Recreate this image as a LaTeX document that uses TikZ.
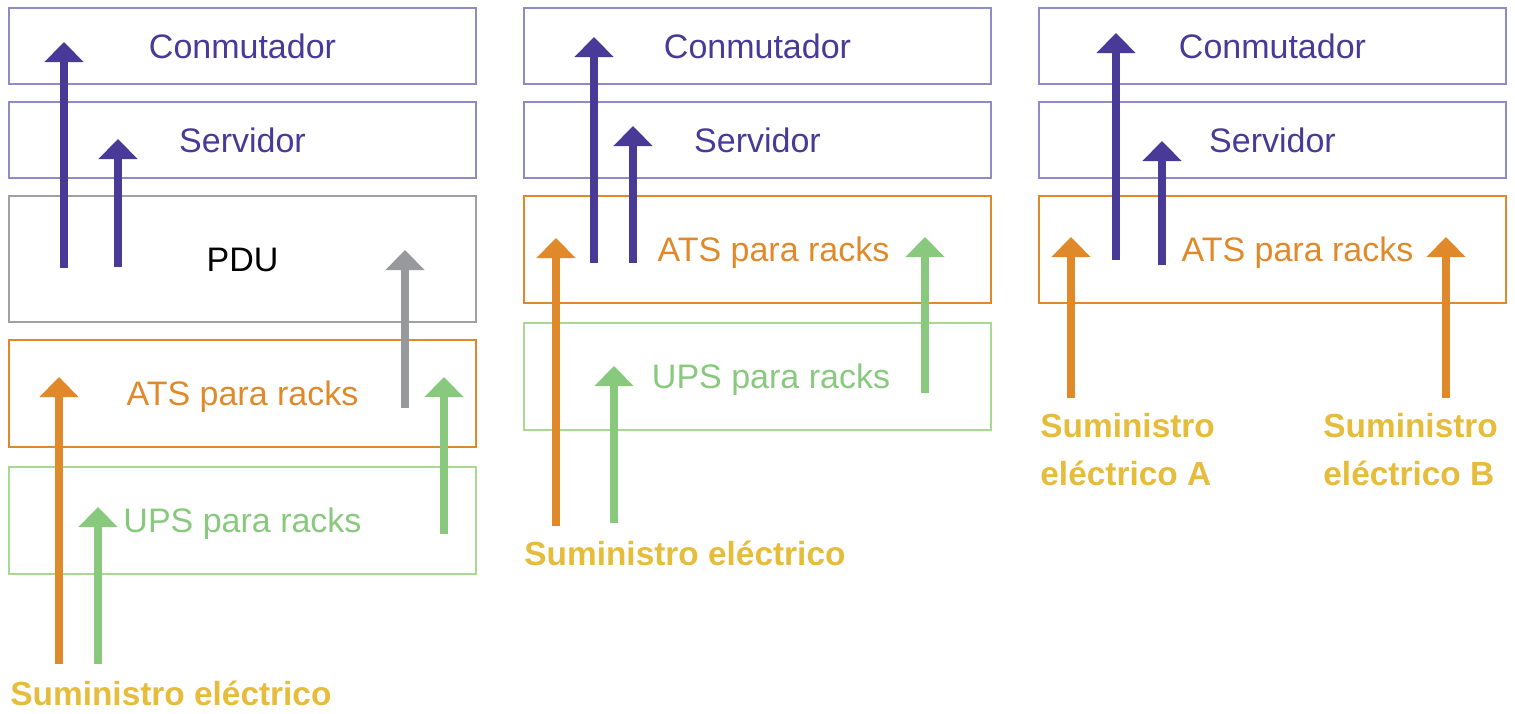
\documentclass[tikz,border=0pt]{standalone}
\usepackage{fontspec}
\setmainfont{Liberation Sans}
\usetikzlibrary{arrows.meta}

\definecolor{morado}{RGB}{72,58,150}
\definecolor{moradoclaro}{RGB}{143,138,200}
\definecolor{naranja}{RGB}{224,137,42}
\definecolor{verde}{RGB}{136,201,126}
\definecolor{verdeclaro}{RGB}{168,216,145}
\definecolor{grisflecha}{RGB}{152,153,156}
\definecolor{griscaja}{RGB}{160,160,160}
\definecolor{amarillo}{RGB}{230,188,60}

\tikzset{
    caja/.style={draw, line width=1pt, minimum width=233.5pt, inner sep=0pt,
        text height=12.2pt, text depth=0pt, font=\fontsize{17}{20}\selectfont},
    cajabaja/.style={caja, minimum height=38pt, draw=moradoclaro, text=morado},
    cajaats/.style={caja, minimum height=53.5pt, draw=naranja, text=naranja},
    cajaups/.style={caja, minimum height=53.5pt, draw=verdeclaro, text=verde},
    texto/.style={inner sep=0pt, text height=12.2pt, text depth=0pt, font=\fontsize{17}{20}\selectfont},
    fuente/.style={inner sep=0pt, text=amarillo, align=left, font=\fontsize{16.7}{24}\selectfont\bfseries},
    flecha/.style={line width=4pt, -{Triangle[width=19pt,length=10pt]}}
}

\begin{document}
\begin{tikzpicture}[x=0.5pt, y=-0.5pt]
    \useasboundingbox (0,0) rectangle (1515,713);

    % columna 1: con PDU
    \node[cajabaja] (conm1) at (242.5,46) {Conmutador};
    \node[cajabaja] (serv1) at (242.5,140) {Servidor};
    \node[caja, minimum height=63pt, draw=griscaja, text=black] (pdu1) at (242.5,259) {PDU};
    \node[cajaats] (ats1) at (242.5,393.5) {ATS para racks};
    \node[cajaups] (ups1) at (242.5,520.5) {UPS para racks};
    \node[fuente, anchor=base west] (sum1) at (10,705) {Suministro eléctrico};

    \coordinate (a1i) at (64,268);   \coordinate (a1f) at (64,42);
    \coordinate (a2i) at (118,267);  \coordinate (a2f) at (118,139);
    \coordinate (a3i) at (405,408);  \coordinate (a3f) at (405,250);
    \coordinate (a4i) at (59,664);   \coordinate (a4f) at (59,377);
    \coordinate (a5i) at (98,664);   \coordinate (a5f) at (98,507);
    \coordinate (a6i) at (444,534);  \coordinate (a6f) at (444,377);

    \draw[flecha, morado] (a1i) -- (a1f);
    \draw[flecha, morado] (a2i) -- (a2f);
    \draw[flecha, grisflecha] (a3i) -- (a3f);
    \draw[flecha, naranja] (a4i) -- (a4f);
    \draw[flecha, verde] (a5i) -- (a5f);
    \draw[flecha, verde] (a6i) -- (a6f);

    % columna 2: ATS + UPS
    \node[cajabaja] (conm2) at (757.5,46) {Conmutador};
    \node[cajabaja] (serv2) at (757.5,140) {Servidor};
    \node[cajaats] (ats2) at (757.5,249.5) {};
    \node[texto, text=naranja] (ats2t) at (773.5,249.5) {ATS para racks};
    \node[cajaups] (ups2) at (757.5,376.5) {};
    \node[texto, text=verde] (ups2t) at (771,376.5) {UPS para racks};
    \node[fuente, anchor=base west] (sum2) at (524,565) {Suministro eléctrico};

    \coordinate (b1i) at (594,263);  \coordinate (b1f) at (594,37);
    \coordinate (b2i) at (633,263);  \coordinate (b2f) at (633,126);
    \coordinate (b3i) at (556,526);  \coordinate (b3f) at (556,238);
    \coordinate (b4i) at (614,523);  \coordinate (b4f) at (614,366);
    \coordinate (b5i) at (925,393);  \coordinate (b5f) at (925,237);

    \draw[flecha, morado] (b1i) -- (b1f);
    \draw[flecha, morado] (b2i) -- (b2f);
    \draw[flecha, naranja] (b3i) -- (b3f);
    \draw[flecha, verde] (b4i) -- (b4f);
    \draw[flecha, verde] (b5i) -- (b5f);

    % columna 3: dos suministros
    \node[cajabaja] (conm3) at (1272.5,46) {Conmutador};
    \node[cajabaja] (serv3) at (1272.5,140) {Servidor};
    \node[cajaats] (ats3) at (1272.5,249.5) {};
    \node[texto, text=naranja] (ats3t) at (1297.5,249.5) {ATS para racks};
    \node[fuente, anchor=base west] (sumA) at (1040,485) {Suministro\\eléctrico A};
    \node[fuente, anchor=base west] (sumB) at (1323,485) {Suministro\\eléctrico B};

    \coordinate (c1i) at (1116,260); \coordinate (c1f) at (1116,33);
    \coordinate (c2i) at (1162,265); \coordinate (c2f) at (1162,141);
    \coordinate (c3i) at (1071,398); \coordinate (c3f) at (1071,237);
    \coordinate (c4i) at (1446,398); \coordinate (c4f) at (1446,237);

    \draw[flecha, morado] (c1i) -- (c1f);
    \draw[flecha, morado] (c2i) -- (c2f);
    \draw[flecha, naranja] (c3i) -- (c3f);
    \draw[flecha, naranja] (c4i) -- (c4f);
\end{tikzpicture}
\end{document}
